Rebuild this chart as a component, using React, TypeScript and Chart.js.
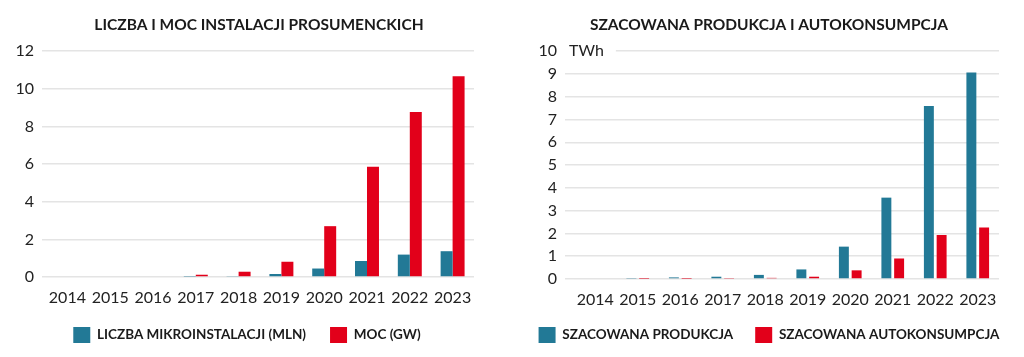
import React, { useEffect, useRef } from "react";
import { Chart, registerables } from "chart.js";

Chart.register(...registerables);

const years = ["2014", "2015", "2016", "2017", "2018", "2019", "2020", "2021", "2022", "2023"];

const leftTitle = "LICZBA I MOC INSTALACJI PROSUMENCKICH";
const leftSeries1Label = "LICZBA MIKROINSTALACJI (MLN)";
const leftSeries2Label = "MOC (GW)";
const liczbaMln = [0, 0, 0, 0.02, 0.05, 0.16, 0.45, 0.85, 1.19, 1.37];
const mocGw = [0, 0, 0, 0.12, 0.28, 0.81, 2.7, 5.86, 8.76, 10.67];

const rightTitle = "SZACOWANA PRODUKCJA I AUTOKONSUMPCJA";
const rightSeries1Label = "SZACOWANA PRODUKCJA";
const rightSeries2Label = "SZACOWANA AUTOKONSUMPCJA";
const rightUnit = "TWh";
const produkcja = [0, 0.02, 0.07, 0.1, 0.18, 0.42, 1.42, 3.57, 7.59, 9.06];
const autokonsumpcja = [0, 0.01, 0.01, 0.02, 0.05, 0.1, 0.38, 0.9, 1.93, 2.26];

const BLUE = "#227996";
const RED = "#E2001A";
const GRID = "#e4e4e4";
const TEXT = "#222222";
const FONT = "Lato";

type Cfg = {
  title: string;
  labels: [string, string];
  data: [number[], number[]];
  max: number;
  step: number;
  padLeft: number;
  yWidth: number;
  tickLen: number;
  rightW: number;
  catPct: number;
  barPct: number;
  unit?: string;
  legendPad: number;
  legendShift: number;
};

function makeChart(canvas: HTMLCanvasElement, c: Cfg) {
  const unitPlugin = {
    id: "unitLabel",
    afterLayout(chart: any) {
      if (chart.legend && c.legendShift) {
        chart.legend.left += c.legendShift;
        chart.legend.right += c.legendShift;
      }
    },
    afterDraw(chart: any) {
      if (!c.unit) return;
      const y = chart.scales.y;
      const ctx = chart.ctx;
      const py = y.getPixelForValue(c.max);
      ctx.save();
      ctx.font = `16px ${FONT}`;
      const w = ctx.measureText(c.unit).width;
      const x0 = chart.chartArea.left - 5;
      ctx.fillStyle = "#ffffff";
      ctx.fillRect(x0 - 4, py - 9, w + 16, 18);
      ctx.fillStyle = TEXT;
      ctx.textBaseline = "middle";
      ctx.textAlign = "left";
      ctx.fillText(c.unit, x0, py);
      ctx.restore();
    },
  };
  return new Chart(canvas, {
    type: "bar",
    data: {
      labels: years,
      datasets: [
        {
          label: c.labels[0],
          data: c.data[0],
          backgroundColor: BLUE,
          borderWidth: 0,
          categoryPercentage: c.catPct,
          barPercentage: c.barPct,
        },
        {
          label: c.labels[1],
          data: c.data[1],
          backgroundColor: RED,
          borderWidth: 0,
          categoryPercentage: c.catPct,
          barPercentage: c.barPct,
        },
      ],
    },
    options: {
      animation: false,
      responsive: false,
      maintainAspectRatio: false,
      layout: { padding: { left: c.padLeft, right: 0, top: 0, bottom: 4 } },
      plugins: {
        title: {
          display: true,
          text: c.title,
          color: "#1a1a1a",
          font: { family: FONT, size: 15.5, weight: "bold" },
          padding: { top: 16, bottom: 16.5 },
        },
        legend: {
          display: true,
          position: "bottom",
          labels: {
            color: "#1a1a1a",
            font: { family: FONT, size: 13.5, weight: "bold" },
            boxWidth: 17,
            boxHeight: 16,
            padding: c.legendPad,
          },
        },
        tooltip: { enabled: false },
      },
      scales: {
        x: {
          grid: { display: false, drawTicks: false },
          border: { display: false },
          afterFit: (s: any) => {
            s.height = 26;
          },
          ticks: {
            color: TEXT,
            font: { family: FONT, size: 16 },
            padding: 11,
            maxRotation: 0,
            autoSkip: false,
          },
        },
        y: {
          min: 0,
          max: c.max,
          afterFit: (s: any) => {
            s.width = c.yWidth;
          },
          grid: {
            color: GRID,
            lineWidth: 1.5,
            drawTicks: true,
            tickLength: c.tickLen,
            tickColor: GRID,
          },
          border: { display: false },
          ticks: {
            stepSize: c.step,
            color: TEXT,
            font: { family: FONT, size: 16 },
            padding: 8,
          },
        },
        yr: {
          position: "right",
          display: true,
          afterFit: (s: any) => {
            s.width = c.rightW;
          },
          grid: { display: false },
          border: { display: false },
          ticks: { display: false },
        },
      },
    },
    plugins: [unitPlugin],
  } as any);
}

function ChartBox({ cfg }: { cfg: Cfg }) {
  const ref = useRef<HTMLCanvasElement>(null);
  useEffect(() => {
    if (!ref.current) return;
    const ch = makeChart(ref.current, cfg);
    return () => ch.destroy();
  }, []);
  return <canvas ref={ref} width={512} height={357} style={{ display: "block", width: 512, height: 357 }} />;
}

const leftCfg: Cfg = {
  title: leftTitle,
  labels: [leftSeries1Label, leftSeries2Label],
  data: [liczbaMln, mocGw],
  max: 12,
  step: 2,
  padLeft: 6,
  yWidth: 40,
  tickLen: 4,
  rightW: 38,
  catPct: 0.56,
  barPct: 1,
  legendPad: 24,
  legendShift: -12,
};

const rightCfg: Cfg = {
  title: rightTitle,
  labels: [rightSeries1Label, rightSeries2Label],
  data: [produkcja, autokonsumpcja],
  max: 10,
  step: 1,
  padLeft: 2,
  yWidth: 60,
  tickLen: 9,
  rightW: 25,
  catPct: 0.6,
  barPct: 0.78,
  unit: rightUnit,
  legendPad: 22,
  legendShift: 0,
};

export default function App() {
  return (
    <div style={{ position: "fixed", left: 0, top: 0, width: 1024, height: 357, background: "#fff", display: "flex" }}>
      <ChartBox cfg={leftCfg} />
      <ChartBox cfg={rightCfg} />
    </div>
  );
}
